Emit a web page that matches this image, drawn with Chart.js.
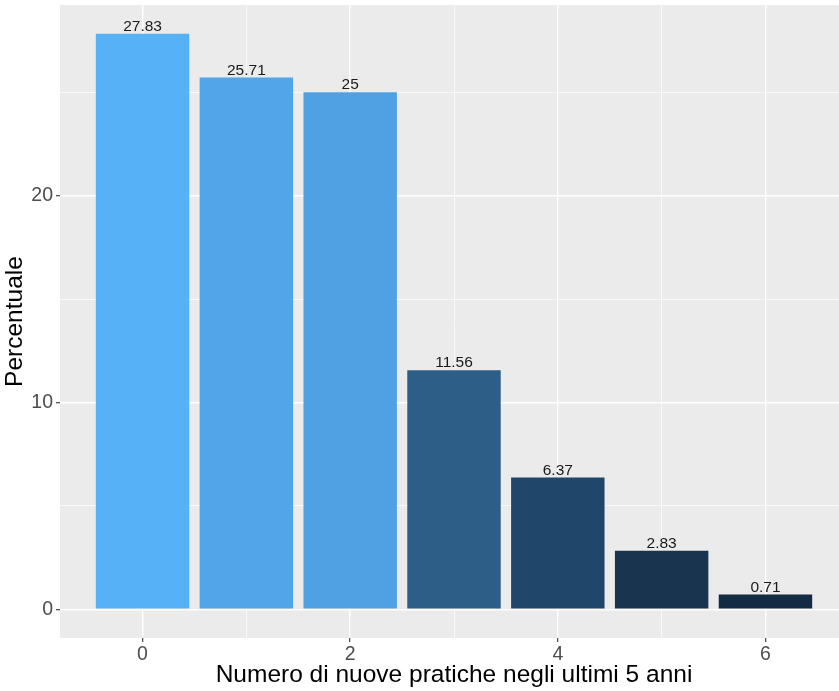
<!DOCTYPE html>
<html>
<head>
<meta charset="utf-8">
<script src="https://cdn.jsdelivr.net/npm/chart.js@4"></script>
<style>
html,body{margin:0;padding:0;background:#fff;overflow:hidden;width:839px;height:691px;}
#wrap{width:848px;height:691px;}
</style>
</head>
<body>
<div id="wrap"><canvas id="c" width="848" height="691"></canvas></div>
<script>
const categories = [0, 1, 2, 3, 4, 5, 6];
const percentuale = [27.83, 25.71, 25, 11.56, 6.37, 2.83, 0.71];
const barLabels = ["27.83", "25.71", "25", "11.56", "6.37", "2.83", "0.71"];
const yTicks = [0, 5, 10, 15, 20, 25];
const yTickLabels = {0: "0", 10: "10", 20: "20"};
const xTicks = [0, 1, 2, 3, 4, 5, 6];
const xTickLabels = {0: "0", 2: "2", 4: "4", 6: "6"};
const barColors = ["#56B1F7", "#51A5E8", "#50A1E3", "#2D5E87", "#20466A", "#19344F", "#132B43"];

const FONT = "'Liberation Sans', Arial, Helvetica, sans-serif";

const panelBg = {
  id: 'panelBg',
  beforeDraw(chart) {
    const {ctx, chartArea: a} = chart;
    ctx.save();
    ctx.fillStyle = '#EBEBEB';
    ctx.fillRect(a.left, a.top, a.right - a.left, a.bottom - a.top);
    ctx.restore();
  }
};

const valueLabels = {
  id: 'valueLabels',
  afterDatasetsDraw(chart) {
    const {ctx} = chart;
    const meta = chart.getDatasetMeta(0);
    ctx.save();
    ctx.font = "15.5px " + FONT;
    ctx.fillStyle = '#1A1A1A';
    ctx.textAlign = 'center';
    ctx.textBaseline = 'alphabetic';
    meta.data.forEach((bar, i) => {
      ctx.fillText(barLabels[i], bar.x, bar.y - 3);
    });
    ctx.restore();
  }
};

new Chart(document.getElementById('c'), {
  type: 'bar',
  data: {
    datasets: [{
      data: categories.map((c, i) => ({x: c, y: percentuale[i]})),
      backgroundColor: barColors,
      borderWidth: 0,
      barPercentage: 0.9,
      categoryPercentage: 1.0
    }]
  },
  options: {
    responsive: false,
    animation: false,
    devicePixelRatio: 1,
    layout: {padding: {top: 5, right: 0, left: 0, bottom: 0}},
    plugins: {legend: {display: false}, tooltip: {enabled: false}},
    scales: {
      x: {
        type: 'linear',
        offset: false,
        min: -0.795,
        max: 6.795,
        afterBuildTicks(axis) { axis.ticks = xTicks.map(v => ({value: v})); },
        afterFit(axis) { axis.height = 53; axis.paddingLeft = 0; axis.paddingRight = 0; },
        border: {display: false},
        grid: {
          offset: false,
          color: '#FFFFFF',
          lineWidth: ctx => (ctx.tick && ctx.tick.value % 2 === 0) ? 1.4 : 0.7,
          tickColor: ctx => (ctx.tick && ctx.tick.value % 2 === 0) ? '#333333' : 'rgba(0,0,0,0)',
          tickLength: 4,
          tickWidth: 1.1
        },
        ticks: {
          autoSkip: false,
          maxRotation: 0,
          padding: 1,
          color: '#4D4D4D',
          font: {size: 19.5, family: FONT},
          callback: v => (xTickLabels[v] !== undefined ? xTickLabels[v] : '')
        },
        title: {
          display: true,
          text: 'Numero di nuove pratiche negli ultimi 5 anni',
          color: '#000000',
          font: {size: 24.5, family: FONT},
          padding: {top: 0, bottom: 1}
        }
      },
      y: {
        type: 'linear',
        min: -1.39,
        max: 29.22,
        afterBuildTicks(axis) { axis.ticks = yTicks.map(v => ({value: v})); },
        afterFit(axis) { axis.width = 60; axis.paddingTop = 0; axis.paddingBottom = 0; },
        border: {display: false},
        grid: {
          color: '#FFFFFF',
          lineWidth: ctx => (ctx.tick && ctx.tick.value % 10 === 0) ? 1.4 : 0.7,
          tickColor: ctx => (ctx.tick && ctx.tick.value % 10 === 0) ? '#333333' : 'rgba(0,0,0,0)',
          tickLength: 4,
          tickWidth: 1.1
        },
        ticks: {
          autoSkip: false,
          padding: 3,
          color: '#4D4D4D',
          font: {size: 19.5, family: FONT},
          callback: v => (yTickLabels[v] !== undefined ? yTickLabels[v] : '')
        },
        title: {
          display: true,
          text: 'Percentuale',
          color: '#000000',
          font: {size: 24.5, family: FONT},
          padding: {top: 1, bottom: 0}
        }
      }
    }
  },
  plugins: [panelBg, valueLabels]
});
</script>
</body>
</html>
